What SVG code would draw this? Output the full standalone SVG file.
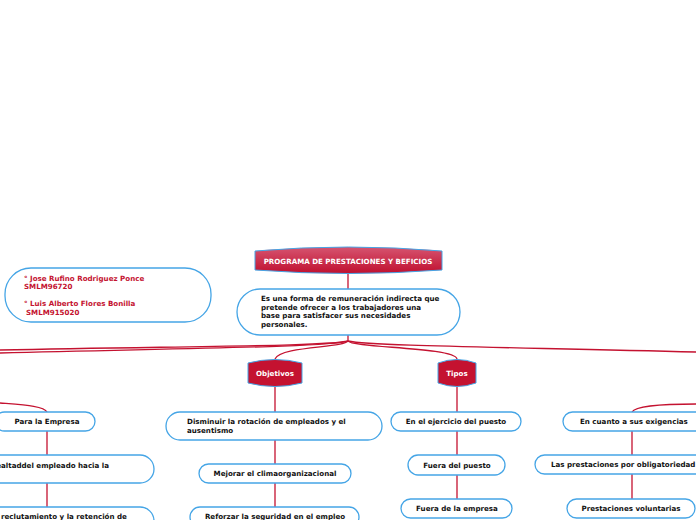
<svg xmlns="http://www.w3.org/2000/svg" width="696" height="520" viewBox="0 0 696 520">
<defs>
<linearGradient id="gTop" x1="0" y1="0" x2="0" y2="1">
<stop offset="0" stop-color="#d65470"/>
<stop offset="1" stop-color="#c0102f"/>
</linearGradient>
<style>
.box{fill:#fff;stroke:#45a5e6;stroke-width:1.3}
.red{fill:#c41230;stroke:#45a5e6;stroke-width:1}
.t{font-family:"DejaVu Sans",Verdana,sans-serif;font-weight:bold;font-size:7.1px;fill:#111}
.w{font-family:"DejaVu Sans",Verdana,sans-serif;font-weight:bold;font-size:7.1px;fill:#fff}
.a{font-family:"DejaVu Sans",Verdana,sans-serif;font-weight:bold;font-size:7.1px;fill:#c41230}
.c{text-anchor:middle}
.ln{fill:none;stroke:#c41230;stroke-width:1.3}
</style>
</defs>
<rect width="696" height="520" fill="#fff"/>
<g id="connectors">
<path class="ln" d="M348,274 L348,289"/>
<path class="ln" d="M348,335 L348,341"/>
<path class="ln" d="M348,341 C330,346 200,346 0,350"/>
<path class="ln" d="M348,341 C330,347 200,348 0,353"/>
<path class="ln" d="M348,341 C370,346 500,347 696,352"/>
<path class="ln" d="M348,341 C344,348 280,346 275,359"/>
<path class="ln" d="M348,341 C352,348 455,347 457,359"/>
<path class="ln" d="M275,387 L275,412"/>
<path class="ln" d="M275,440 L275,464"/>
<path class="ln" d="M275,483 L275,507"/>
<path class="ln" d="M457,387 L457,412"/>
<path class="ln" d="M457,431 L457,455"/>
<path class="ln" d="M457,475 L457,499"/>
<path class="ln" d="M0,403 C25,405 44,406 47,412"/>
<path class="ln" d="M47,431 L47,455"/>
<path class="ln" d="M47,483 L47,507"/>
<path class="ln" d="M632,412 C636,405 670,404 696,404"/>
<path class="ln" d="M632,431 L632,455"/>
<path class="ln" d="M632,474 L632,499"/>
</g>
<g id="autores">
<rect class="box" x="5" y="268" width="206" height="54" rx="26"/>
<text class="a" x="24" y="281">° Jose Rufino Rodriguez Ponce</text>
<text class="a" x="24" y="289">SMLM96720</text>
<text class="a" x="24" y="306">° Luis Alberto Flores Bonilla</text>
<text class="a" x="26" y="314.5">SMLM915020</text>
</g>
<g id="programa">
<path d="M255,251 Q348,243 442,251 L442,270 Q348,277 255,270 Z" fill="url(#gTop)" stroke="#45a5e6" stroke-width="1"/>
<text class="w c" x="348" y="263.5">PROGRAMA DE PRESTACIONES Y BEFICIOS</text>
</g>
<g id="definicion">
<rect class="box" x="237" y="289" width="223" height="46" rx="23"/>
<text class="t" x="261" y="301">Es una forma de remuneración indirecta que</text>
<text class="t" x="261" y="309.5">pretende ofrecer a los trabajadores una</text>
<text class="t" x="261" y="318">base para satisfacer sus necesidades</text>
<text class="t" x="261" y="326.5">personales.</text>
</g>
<g id="objetivos">
<path class="red" d="M248,363 Q275,356 302,363 L302,383 Q275,390 248,383 Z"/>
<text class="w c" x="275" y="376">Objetivos</text>
</g>
<g id="tipos">
<path class="red" d="M438,363 Q457,356 476,363 L476,383 Q457,390 438,383 Z"/>
<text class="w c" x="457" y="376">Tipos</text>
</g>
<g id="disminuir">
<rect class="box" x="166" y="412" width="216" height="28" rx="14"/>
<text class="t" x="187" y="424">Disminuir la rotación de empleados y el</text>
<text class="t" x="187" y="433">ausentismo</text>
</g>
<g id="mejorar">
<rect class="box" x="199" y="464" width="152" height="19" rx="9.5"/>
<text class="t c" x="275" y="476">Mejorar el climaorganizacional</text>
</g>
<g id="reforzar">
<rect class="box" x="190" y="507" width="169" height="20" rx="10"/>
<text class="t c" x="275" y="519">Reforzar la seguridad en el empleo</text>
</g>
<g id="ejercicio">
<rect class="box" x="391" y="412" width="130" height="19" rx="9.5"/>
<text class="t c" x="456" y="424">En el ejercicio del puesto</text>
</g>
<g id="fuera-puesto">
<rect class="box" x="408" y="455" width="97" height="20" rx="10"/>
<text class="t c" x="457" y="468">Fuera del puesto</text>
</g>
<g id="fuera-empresa">
<rect class="box" x="401" y="499" width="111" height="19" rx="9.5"/>
<text class="t c" x="457" y="511">Fuera de la empresa</text>
</g>
<g id="para-empresa">
<rect class="box" x="-5" y="412" width="100" height="19" rx="9.5"/>
<text class="t c" x="47" y="424">Para la Empresa</text>
</g>
<g id="lealtad">
<rect class="box" x="-60" y="455" width="214" height="28" rx="14"/>
<text class="t" x="109" y="468" text-anchor="end">lealtaddel empleado hacia la</text>
</g>
<g id="reclutamiento">
<rect class="box" x="-60" y="507" width="214" height="28" rx="14"/>
<text class="t" x="1" y="519">reclutamiento y la retención de</text>
</g>
<g id="exigencias">
<rect class="box" x="563" y="412" width="150" height="19" rx="9.5"/>
<text class="t" x="580" y="424">En cuanto a sus exigencias</text>
</g>
<g id="obligatoriedad">
<rect class="box" x="535" y="455" width="180" height="19" rx="9.5"/>
<text class="t" x="551" y="467">Las prestaciones por obligatoriedad legal</text>
</g>
<g id="voluntarias">
<rect class="box" x="567" y="499" width="128" height="19" rx="9.5"/>
<text class="t c" x="631" y="511">Prestaciones voluntarias</text>
</g>
</svg>
